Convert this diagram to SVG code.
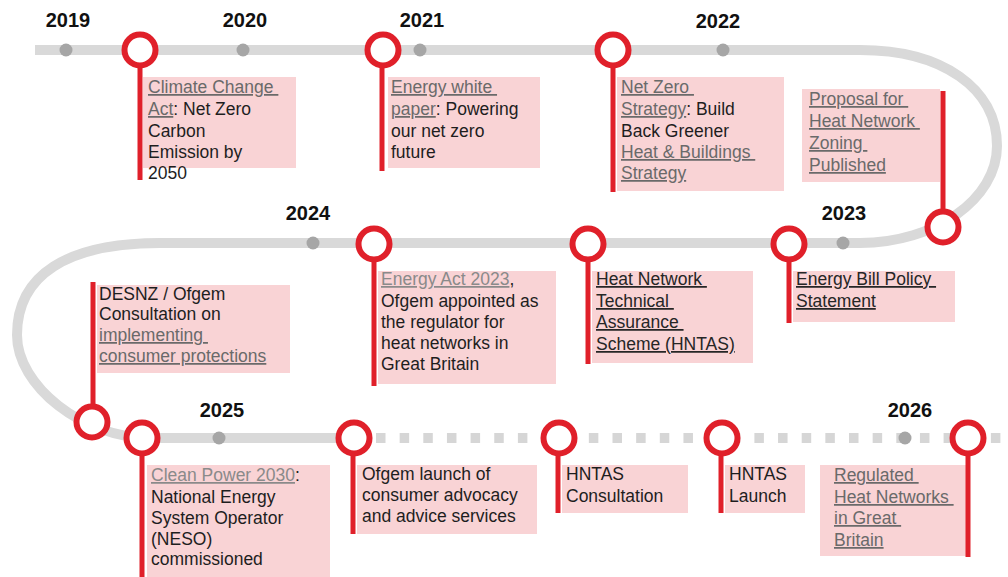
<svg xmlns="http://www.w3.org/2000/svg" width="1008" height="577" viewBox="0 0 1008 577">
  <style>
    .track{fill:none;stroke:#d9d9d9;stroke-width:10}
    .dash{fill:none;stroke:#d6d6d6;stroke-width:10;stroke-dasharray:9.5 14.15}
    .dot{fill:#a6a6a6}
    .ring{fill:#fff;stroke:#e0202a;stroke-width:6}
    .stem{stroke:#e0202a;stroke-width:5}
    .box{fill:#f9d3d5}
    .yr{font:bold 20px "Liberation Sans",Arial,sans-serif;fill:#111;text-anchor:middle}
    .t{font-family:"Liberation Sans",Arial,sans-serif;font-size:17.5px;fill:#1e1e1e}
    .lk{fill:#6a6a6a;text-decoration:underline}
    .lk2{fill:#8a8a8a;text-decoration:underline}
    .dk{fill:#262626;text-decoration:underline}
  </style>
  <rect width="1008" height="577" fill="#fff"/>

  <!-- timeline track -->
  <g id="connectors">
    <path class="track" d="M35,50 H860 C942,50 997,88 997,146 C997,199 935,243 860,243 H160 C67,243 17,275 17,335 C17,386 83,438 150,438 H362"/>
    <path class="dash" d="M376,438 H1003"/>
  </g>

  <!-- year markers -->
  <g id="years">
    <circle class="dot" cx="66" cy="50" r="6.5"/>
    <circle class="dot" cx="243" cy="50" r="6.5"/>
    <circle class="dot" cx="420" cy="50" r="6.5"/>
    <circle class="dot" cx="723" cy="50" r="6.5"/>
    <circle class="dot" cx="313" cy="243" r="6.5"/>
    <circle class="dot" cx="843" cy="243" r="6.5"/>
    <circle class="dot" cx="219" cy="438" r="6.5"/>
    <circle class="dot" cx="905" cy="438" r="6.5"/>
    <text class="yr" x="68" y="27">2019</text>
    <text class="yr" x="245" y="27">2020</text>
    <text class="yr" x="422" y="27">2021</text>
    <text class="yr" x="718" y="28">2022</text>
    <text class="yr" x="308" y="220">2024</text>
    <text class="yr" x="844" y="220">2023</text>
    <text class="yr" x="222" y="417">2025</text>
    <text class="yr" x="910" y="417">2026</text>
  </g>

  <g id="climate-change-act">
    <rect class="box" x="143" y="77" width="153" height="91"/>
    <line class="stem" x1="140" y1="50" x2="140" y2="180"/>
    <circle class="ring" cx="140" cy="50" r="15.5"/>
    <text class="t" x="148" xml:space="preserve"><tspan y="93" class="lk">Climate Change </tspan><tspan x="148" y="115"><tspan class="lk">Act</tspan>: Net Zero</tspan><tspan x="148" y="137">Carbon</tspan><tspan x="148" y="158">Emission by</tspan><tspan x="148" y="179">2050</tspan></text>
  </g>

  <g id="energy-white-paper">
    <rect class="box" x="388" y="77" width="152" height="91"/>
    <line class="stem" x1="382" y1="50" x2="382" y2="171"/>
    <circle class="ring" cx="383" cy="50" r="15.5"/>
    <text class="t" x="391" xml:space="preserve"><tspan y="93" class="lk">Energy white </tspan><tspan x="391" y="115"><tspan class="lk">paper</tspan>: Powering</tspan><tspan x="391" y="137">our net zero</tspan><tspan x="391" y="158">future</tspan></text>
  </g>

  <g id="net-zero-strategy">
    <rect class="box" x="617" y="77" width="167" height="114"/>
    <line class="stem" x1="613" y1="50" x2="613" y2="192"/>
    <circle class="ring" cx="613" cy="50" r="15.5"/>
    <text class="t" x="621" xml:space="preserve"><tspan y="93" class="lk">Net Zero </tspan><tspan x="621" y="115"><tspan class="lk">Strategy</tspan>: Build</tspan><tspan x="621" y="137">Back Greener</tspan><tspan x="621" y="158" class="lk">Heat &amp; Buildings </tspan><tspan x="621" y="179" class="lk">Strategy</tspan></text>
  </g>

  <g id="heat-network-zoning">
    <rect class="box" x="802" y="89" width="138" height="93"/>
    <line class="stem" x1="943" y1="91" x2="943" y2="227"/>
    <circle class="ring" cx="943" cy="227" r="15.5"/>
    <text class="t lk" x="809" xml:space="preserve"><tspan y="105">Proposal for </tspan><tspan x="809" y="127">Heat Network </tspan><tspan x="809" y="149">Zoning </tspan><tspan x="809" y="171">Published</tspan></text>
  </g>

  <g id="energy-act-2023">
    <rect class="box" x="378" y="271" width="178" height="113"/>
    <line class="stem" x1="374" y1="244" x2="374" y2="386"/>
    <circle class="ring" cx="374" cy="244" r="15.5"/>
    <text class="t" x="381"><tspan y="285"><tspan class="lk2">Energy Act 2023</tspan>,</tspan><tspan x="381" y="307">Ofgem appointed as</tspan><tspan x="381" y="328">the regulator for</tspan><tspan x="381" y="349">heat networks in</tspan><tspan x="381" y="370">Great Britain</tspan></text>
  </g>

  <g id="hntas-scheme">
    <rect class="box" x="592" y="271" width="161" height="92"/>
    <line class="stem" x1="588" y1="244" x2="588" y2="364"/>
    <circle class="ring" cx="588" cy="244" r="15.5"/>
    <text class="t dk" x="596" xml:space="preserve"><tspan y="285">Heat Network </tspan><tspan x="596" y="307">Technical </tspan><tspan x="596" y="328">Assurance </tspan><tspan x="596" y="350">Scheme (HNTAS)</tspan></text>
  </g>

  <g id="energy-bill-policy">
    <rect class="box" x="793" y="271" width="162" height="51"/>
    <line class="stem" x1="789" y1="244" x2="789" y2="323"/>
    <circle class="ring" cx="789" cy="244" r="15.5"/>
    <text class="t dk" x="796" xml:space="preserve"><tspan y="285">Energy Bill Policy </tspan><tspan x="796" y="307">Statement</tspan></text>
  </g>

  <g id="consumer-protections">
    <rect class="box" x="97" y="285" width="193" height="88"/>
    <line class="stem" x1="93" y1="282" x2="93" y2="422"/>
    <circle class="ring" cx="92" cy="422" r="15.5"/>
    <text class="t" x="99" xml:space="preserve"><tspan y="300">DESNZ / Ofgem</tspan><tspan x="99" y="320">Consultation on</tspan><tspan x="99" y="341" class="lk">implementing </tspan><tspan x="99" y="362" class="lk">consumer protections</tspan></text>
  </g>

  <g id="clean-power-2030">
    <rect class="box" x="147" y="465" width="183" height="112"/>
    <line class="stem" x1="142" y1="438" x2="142" y2="577"/>
    <circle class="ring" cx="142" cy="438" r="15.5"/>
    <text class="t" x="151"><tspan y="481"><tspan class="lk2">Clean Power 2030</tspan>:</tspan><tspan x="151" y="503">National Energy</tspan><tspan x="151" y="524">System Operator</tspan><tspan x="151" y="545">(NESO)</tspan><tspan x="151" y="565">commissioned</tspan></text>
  </g>

  <g id="consumer-advocacy">
    <rect class="box" x="357" y="465" width="180" height="69"/>
    <line class="stem" x1="353" y1="438" x2="353" y2="534"/>
    <circle class="ring" cx="354" cy="438" r="15.5"/>
    <text class="t" x="362"><tspan y="480">Ofgem launch of</tspan><tspan x="362" y="501">consumer advocacy</tspan><tspan x="362" y="522">and advice services</tspan></text>
  </g>

  <g id="hntas-consultation">
    <rect class="box" x="562" y="465" width="126" height="48"/>
    <line class="stem" x1="558" y1="438" x2="558" y2="513"/>
    <circle class="ring" cx="559" cy="438" r="15.5"/>
    <text class="t" x="566"><tspan y="480">HNTAS</tspan><tspan x="566" y="502">Consultation</tspan></text>
  </g>

  <g id="hntas-launch">
    <rect class="box" x="725" y="465" width="80" height="48"/>
    <line class="stem" x1="721" y1="438" x2="721" y2="513"/>
    <circle class="ring" cx="722" cy="438" r="15.5"/>
    <text class="t" x="729"><tspan y="480">HNTAS</tspan><tspan x="729" y="502">Launch</tspan></text>
  </g>

  <g id="regulated-heat-networks">
    <rect class="box" x="820" y="465" width="148" height="91"/>
    <line class="stem" x1="968" y1="438" x2="968" y2="557"/>
    <circle class="ring" cx="968" cy="438" r="15.5"/>
    <text class="t lk" x="834" xml:space="preserve"><tspan y="481">Regulated </tspan><tspan x="834" y="503">Heat Networks </tspan><tspan x="834" y="524">in Great </tspan><tspan x="834" y="546">Britain</tspan></text>
  </g>
</svg>
